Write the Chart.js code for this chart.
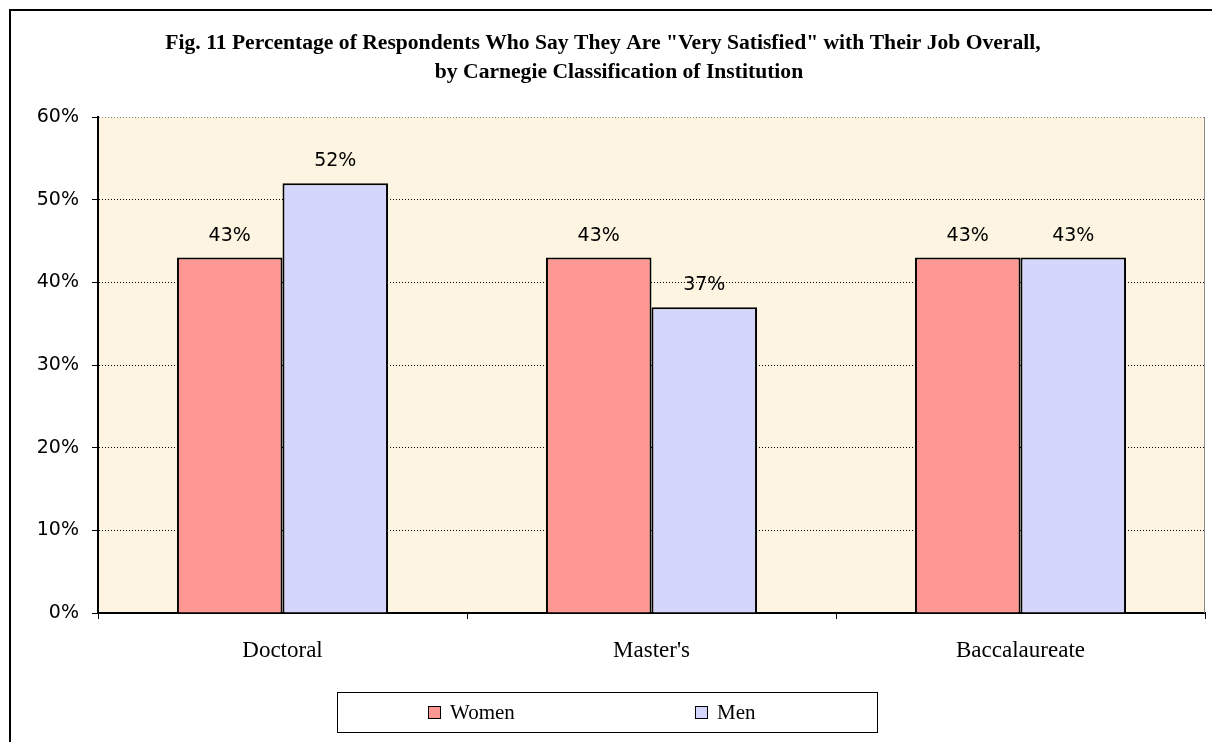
<!DOCTYPE html>
<html>
<head>
<meta charset="utf-8">
<script src="https://cdn.jsdelivr.net/npm/chart.js@4.4.1/dist/chart.umd.min.js"></script>
<style>
  html, body { margin: 0; padding: 0; background: #fff; }
  #wrap { width: 1212px; height: 742px; position: relative; }
</style>
</head>
<body>
<div id="wrap"><canvas id="chart" width="1212" height="742"></canvas></div>
<script>
// Fig. 11 - "very satisfied" with job overall, by Carnegie class
const titleLines = [
    'Fig. 11 Percentage of Respondents Who Say They Are "Very Satisfied" with Their Job Overall,',
    'by Carnegie Classification of Institution'
];
const categories = ['Doctoral', "Master's", 'Baccalaureate'];
const women = [43, 43, 43];
const men = [52, 37, 43];
const yTicks = [0, 10, 20, 30, 40, 50, 60];

const serif = '"Liberation Serif", "Times New Roman", serif';
const sans = '"DejaVu Sans", Verdana, sans-serif';

// plot background, frame, title, bar labels and boxed legend
const decor = {
    id: 'decor',
    beforeDraw(chart) {
        const { ctx, chartArea: a } = chart;
        ctx.save();
        ctx.fillStyle = '#fff';
        ctx.fillRect(0, 0, chart.width, chart.height);
        ctx.fillStyle = '#FDF4E1';
        ctx.fillRect(a.left, a.top, a.right - a.left, a.bottom - a.top);
        ctx.restore();
    },
    afterDraw(chart) {
        const { ctx, chartArea: a } = chart;
        ctx.save();
        // right edge of plot in gray
        ctx.strokeStyle = '#8c8c8c';
        ctx.lineWidth = 1;
        ctx.beginPath();
        ctx.moveTo(a.right - 0.5, a.top);
        ctx.lineTo(a.right - 0.5, a.bottom);
        ctx.stroke();

        // outer frame
        ctx.strokeStyle = '#000';
        ctx.lineWidth = 2;
        ctx.strokeRect(10, 10, 1400, 900);

        // title
        ctx.fillStyle = '#000';
        ctx.font = 'bold 21.6px ' + serif;
        ctx.textAlign = 'center';
        ctx.textBaseline = 'alphabetic';
        ctx.fillText(titleLines[0], 603, 49);
        ctx.fillText(titleLines[1], 619, 78);

        // value labels
        ctx.font = '19px ' + sans;
        chart.data.datasets.forEach((ds, i) => {
            chart.getDatasetMeta(i).data.forEach((bar, j) => {
                ctx.fillText(ds.data[j] + '%', bar.x, bar.y - 17);
            });
        });

        // legend box
        ctx.fillStyle = '#fff';
        ctx.fillRect(337, 692, 540, 40);
        ctx.strokeStyle = '#000';
        ctx.lineWidth = 1;
        ctx.strokeRect(337.5, 692.5, 540, 40);
        const itemX = [428, 695];
        ctx.font = '21px ' + serif;
        ctx.textAlign = 'left';
        ctx.textBaseline = 'middle';
        chart.data.datasets.forEach((ds, i) => {
            ctx.fillStyle = ds.backgroundColor;
            ctx.fillRect(itemX[i], 706, 13, 13);
            ctx.strokeStyle = '#000';
            ctx.strokeRect(itemX[i] + 0.5, 706.5, 12, 12);
            ctx.fillStyle = '#000';
            ctx.fillText(ds.label, itemX[i] + 22, 713);
        });
        ctx.restore();
    }
};

new Chart(document.getElementById('chart'), {
    type: 'bar',
    data: {
        labels: categories,
        datasets: [
            { label: 'Women', data: women, backgroundColor: '#FF9893', borderColor: '#000', borderWidth: 2 },
            { label: 'Men', data: men, backgroundColor: '#D4D6FB', borderColor: '#000', borderWidth: 2 }
        ]
    },
    options: {
        responsive: false,
        animation: false,
        devicePixelRatio: 1,
        categoryPercentage: 0.572,
        barPercentage: 1,
        layout: { padding: { left: 0, right: 7, top: 117, bottom: 0 } },
        plugins: { legend: { display: false }, title: { display: false }, tooltip: { enabled: false } },
        scales: {
            x: {
                afterFit: s => { s.height = 129; },
                grid: { offset: true, drawOnChartArea: false, drawTicks: true, tickLength: 6, color: '#000', tickColor: '#000' },
                border: { display: true, color: '#000', width: 2 },
                ticks: { color: '#000', font: { family: serif, size: 23 }, padding: 18, maxRotation: 0 }
            },
            y: {
                min: 0, max: 60,
                afterFit: s => { s.width = 98; },
                afterBuildTicks: s => { s.ticks = yTicks.map(v => ({ value: v })); },
                grid: {
                    color: c => c.index === 0 ? 'rgba(0,0,0,0)' : (c.tick && c.tick.value === 60 ? '#8c8c8c' : '#000'),
                    tickColor: '#000', tickLength: 6, tickBorderDash: [], lineWidth: 1
                },
                border: { display: true, color: '#000', width: 2, dash: [1, 2] },
                ticks: { color: '#000', font: { family: sans, size: 19 }, padding: 13, callback: v => v + '%' }
            }
        }
    },
    plugins: [decor]
});
</script>
</body>
</html>
